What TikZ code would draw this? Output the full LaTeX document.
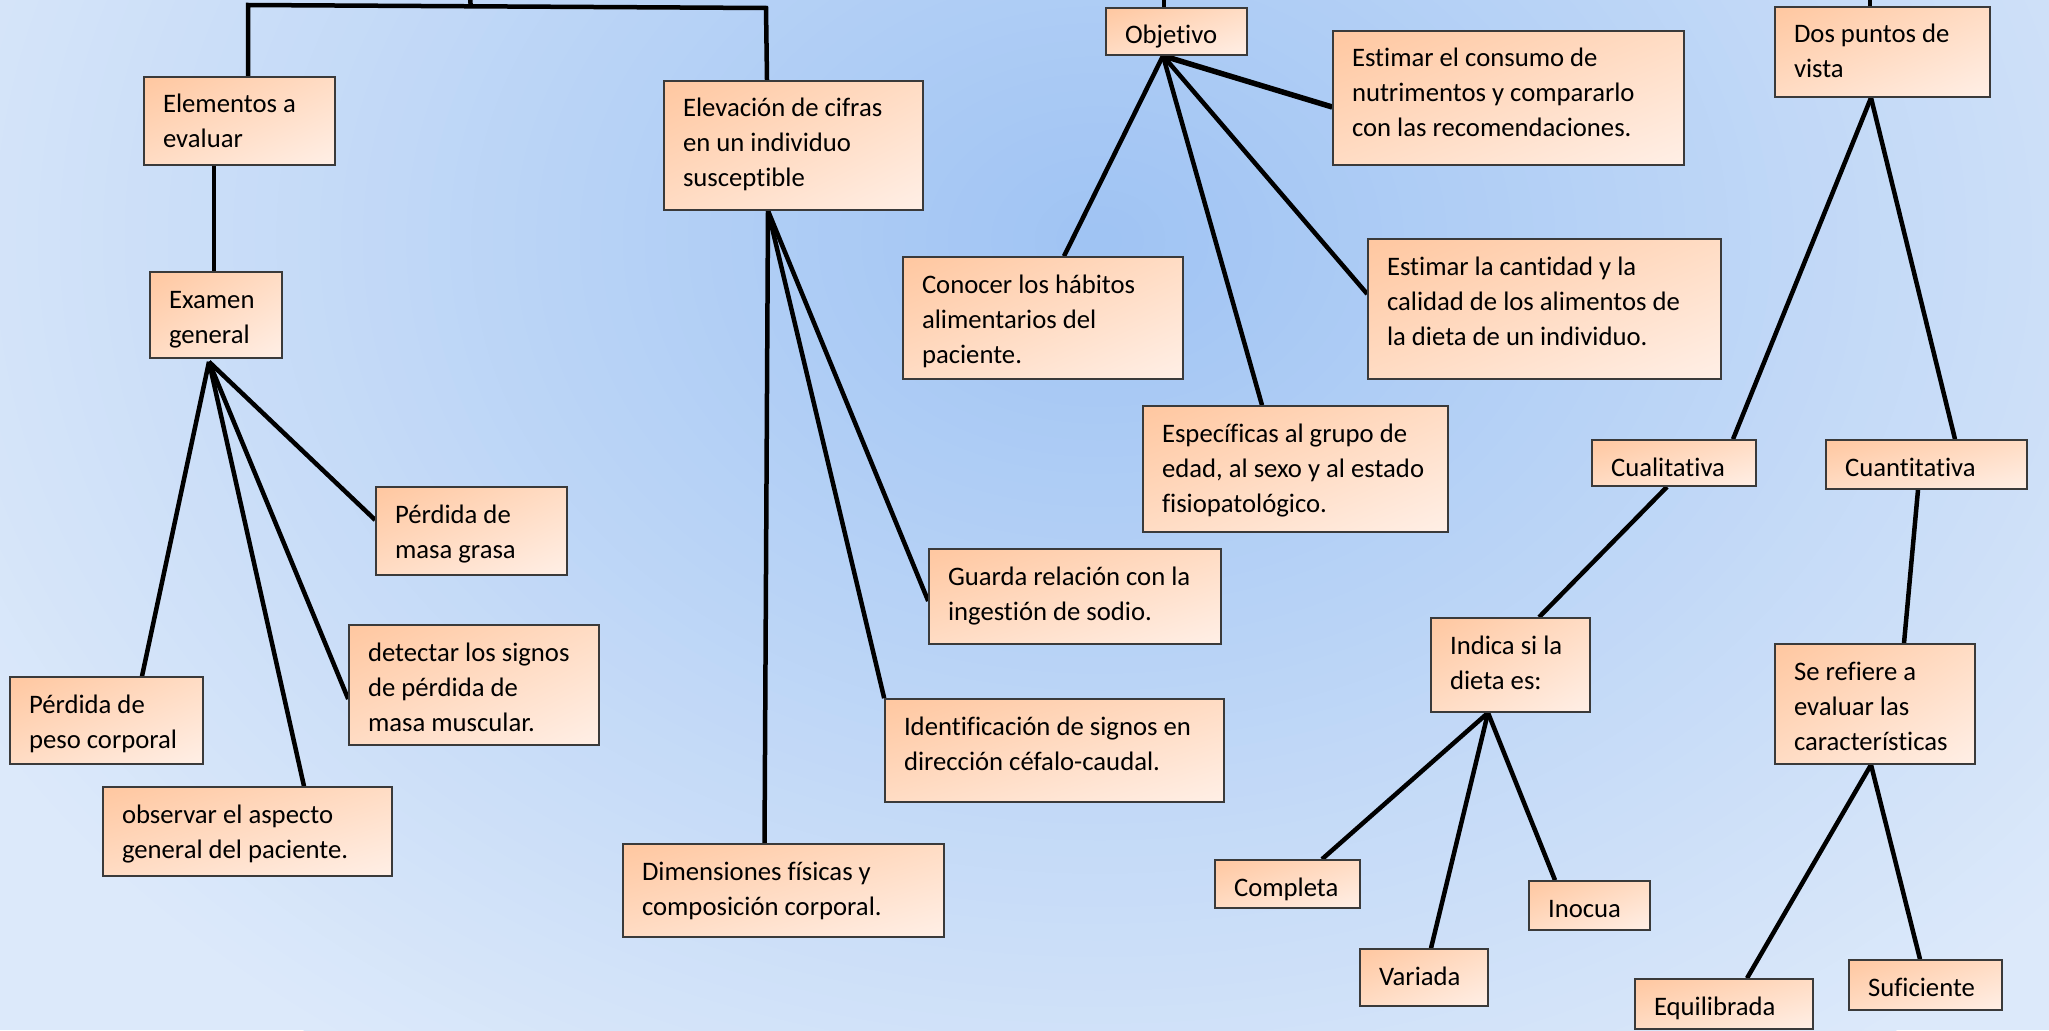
\documentclass[tikz,border=0pt]{standalone}
\usepackage{fontspec}
\setmainfont{Carlito}[Ligatures=NoCommon]
\usetikzlibrary{shadings,calc}
\definecolor{bgin}{HTML}{9FC3F3}
\definecolor{bgout}{HTML}{DCE9FA}
\definecolor{pkA}{HTML}{FFC7A0}
\definecolor{pkB}{HTML}{FFDCC4}
\definecolor{pkC}{HTML}{FFEFE6}
\definecolor{edgecol}{HTML}{3A3A3A}
\pgfdeclarelayer{bg}\pgfdeclarelayer{lines}\pgfsetlayers{bg,lines,main}
\newcommand{\tlines}[1]{\begin{tabular}[t]{@{}l@{}}#1\end{tabular}}
\newcommand{\bx}[6]{%
 \pgfmathsetmacro{\mybw}{#4-#2}\pgfmathsetmacro{\mybh}{#5-#3}%
 \pgfmathsetmacro{\mycx}{(#2+#4)/2}\pgfmathsetmacro{\mycy}{(#3+#5)/2}%
 \pgfmathsetmacro{\mytw}{#4-#2-38}\pgfmathsetmacro{\mytd}{#5-#3-36}%
 \node[box, minimum width=\mybw pt, minimum height=\mybh pt, text height=36pt, text depth=\mytd pt] (#1) at (\mycx,\mycy) {\makebox[\mytw pt][l]{\tlines{#6}}};}
\begin{document}
\begin{tikzpicture}[x=1pt,y=-1pt,
 box/.style={draw=edgecol, line width=1.6pt, upper left=pkA, upper right=pkB, lower left=pkB, lower right=pkC,
   inner xsep=19pt, inner ysep=0pt, font=\fontsize{26.7}{35}\selectfont},
 conn/.style={line width=4.5pt, draw=black}]
\useasboundingbox (0,0) rectangle (2049,1030);
\begin{pgfonlayer}{bg}
 \fill[bgout] (0,0) rectangle (2049,1030);
 \clip (0,0) rectangle (2049,1030);
 \foreach \i in {0,...,59}{%
   \pgfmathsetmacro{\myr}{1-\i/60}%
   \pgfmathsetmacro{\myp}{\i*100/60}%
   \fill[bgin!\myp!bgout] (1100,240) ellipse [x radius={1300*\myr}, y radius={1000*\myr}];
 }
\end{pgfonlayer}

\bx{elem}{144}{77}{335}{165}{Elementos a\\evaluar}
\bx{elev}{664}{81}{923}{210}{Elevación de cifras\\en un individuo\\susceptible}
\bx{obj}{1106}{8}{1247}{55}{Objetivo}
\bx{estc}{1333}{31}{1684}{165}{Estimar el consumo de\\nutrimentos y compararlo\\con las recomendaciones.}
\bx{dos}{1775}{7}{1990}{97}{Dos puntos de\\vista}
\bx{exam}{150}{272}{282}{358}{Examen\\general}
\bx{cono}{903}{257}{1183}{379}{Conocer los hábitos\\alimentarios del\\paciente.}
\bx{estq}{1368}{239}{1721}{379}{Estimar la cantidad y la\\calidad de los alimentos de\\la dieta de un individuo.}
\bx{espe}{1143}{406}{1448}{532}{Específicas al grupo de\\edad, al sexo y al estado\\fisiopatológico.}
\bx{cual}{1592}{440}{1756}{486}{Cualitativa}
\bx{cuan}{1826}{440}{2027}{489}{Cuantitativa}
\bx{pmg}{376}{487}{567}{575}{Pérdida de\\masa grasa}
\bx{guar}{929}{549}{1221}{644}{Guarda relación con la\\ingestión de sodio.}
\bx{indi}{1431}{618}{1590}{712}{Indica si la\\dieta es:}
\bx{dete}{349}{625}{599}{745}{detectar los signos\\de pérdida de\\masa muscular.}
\bx{ppc}{10}{677}{203}{764}{Pérdida de\\peso corporal}
\bx{iden}{885}{699}{1224}{802}{Identificación de signos en\\dirección céfalo-caudal.}
\bx{sere}{1775}{644}{1975}{764}{Se refiere a\\evaluar las\\características}
\bx{obse}{103}{787}{392}{876}{observar el aspecto\\general del paciente.}
\bx{dime}{623}{844}{944}{937}{Dimensiones físicas y\\composición corporal.}
\bx{comp}{1215}{860}{1360}{908}{Completa}
\bx{inoc}{1529}{881}{1650}{930}{Inocua}
\bx{vari}{1360}{949}{1488}{1006}{Variada}
\bx{equi}{1635}{979}{1813}{1029}{Equilibrada}
\bx{sufi}{1849}{960}{2002}{1010}{Suficiente}

\coordinate (bl) at (248,5);
\coordinate (br) at (766,8);
\coordinate (bt) at (470,-3);
\coordinate (objtop) at (1164,-3);
\coordinate (dostop) at (1870,-3);

\begin{pgfonlayer}{lines}
 % top bus
 \draw[conn] ([shift={(8.5,0)}]elem.north) -- (bl) -- (br) -- ([shift={(-26.5,0)}]elev.north);
 \draw[conn] (bt) -- ($(bl)!0.43!(br)$);
 \draw[conn] (objtop) -- ([shift={(-12.5,0)}]obj.north);
 \draw[conn] (dostop) -- ([shift={(-12.5,0)}]dos.north);
 % left branch
 \draw[conn] ([shift={(-25.5,0)}]elem.south) -- ([shift={(-2,0)}]exam.north);
 \draw[conn] ([shift={(-7,3)}]exam.south) -- ([shift={(0,-11)}]pmg.west);
 \draw[conn] ([shift={(-7,3)}]exam.south) -- ([shift={(0,14)}]dete.west);
 \draw[conn] ([shift={(-7,3)}]exam.south) -- ([shift={(56.5,0)}]obse.north);
 \draw[conn] ([shift={(-7,3)}]exam.south) -- ([shift={(35.5,0)}]ppc.north);
 % elevacion
 \draw[conn] ([shift={(-25.5,0)}]elev.south) -- ([shift={(0,4.5)}]guar.west);
 \draw[conn] ([shift={(-25.5,0)}]elev.south) -- (iden.north west);
 \draw[conn] ([shift={(-25.5,0)}]elev.south) -- ([shift={(-19,0)}]dime.north);
 % objetivo
 \draw[conn, line width=5.5pt] ([shift={(-13.5,0)}]obj.south) -- ([shift={(0,9)}]estc.west);
 \draw[conn] ([shift={(-13.5,0)}]obj.south) -- ([shift={(0,-15)}]estq.west);
 \draw[conn] ([shift={(-13.5,0)}]obj.south) -- ([shift={(-33.5,0)}]espe.north);
 \draw[conn] ([shift={(-13.5,0)}]obj.south) -- ([shift={(21,0)}]cono.north);
 % dos puntos de vista
 \draw[conn] ([shift={(-11.5,0)}]dos.south) -- ([shift={(59,0)}]cual.north);
 \draw[conn] ([shift={(-11.5,0)}]dos.south) -- ([shift={(28.5,0)}]cuan.north);
 \draw[conn] ([shift={(-7,0)}]cual.south) -- ([shift={(28.5,0)}]indi.north);
 \draw[conn] ([shift={(-8.5,0)}]cuan.south) -- ([shift={(29,0)}]sere.north);
 \draw[conn] ([shift={(-22.5,0)}]indi.south) -- ([shift={(34.5,0)}]comp.north);
 \draw[conn] ([shift={(-22.5,0)}]indi.south) -- ([shift={(7,0)}]vari.north);
 \draw[conn] ([shift={(-22.5,0)}]indi.south) -- ([shift={(-34.5,0)}]inoc.north);
 \draw[conn] ([shift={(-4,0)}]sere.south) -- ([shift={(23,0)}]equi.north);
 \draw[conn] ([shift={(-4,0)}]sere.south) -- ([shift={(-5.5,0)}]sufi.north);
\end{pgfonlayer}
\end{tikzpicture}
\end{document}
